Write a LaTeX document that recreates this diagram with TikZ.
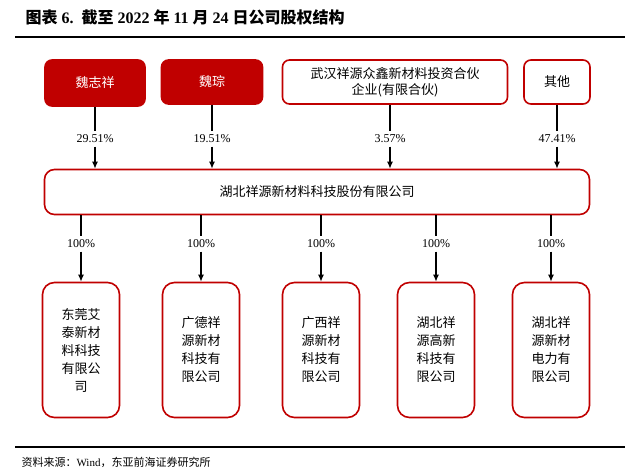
\documentclass[tikz,border=0pt]{standalone}
\usepackage{fontspec}
\setmainfont{Liberation Serif}
\newfontfamily\cjk{Noto Sans CJK SC}
\usetikzlibrary{positioning,arrows.meta}
\definecolor{xyred}{RGB}{192,0,0}
\begin{document}
\begin{tikzpicture}[
    x=1pt,y=-1pt,
    holder/.style={
      draw=xyred,
      line width=1.6pt,
      rounded corners=7pt,
      font=\cjk\fontsize{13}{16}\selectfont,
      align=center,
      inner sep=0pt
    },
    person/.style={
      holder,
      fill=xyred,
      text=white
    },
    child/.style={
      holder,
      rounded corners=12pt,
      minimum width=77pt,
      minimum height=135pt,
      font=\cjk\fontsize{13}{18}\selectfont
    },
    pct/.style={
      font=\fontsize{12}{14}\selectfont
    },
    >={Latex[length=7pt,width=6pt]}
    ]
    \useasboundingbox (0,0) rectangle (640,474);
    \node[anchor=west,font=\bfseries\fontsize{16}{19}\selectfont] (title) at (22,17)
      {{\cjk\bfseries 图表} 6.\ \ {\cjk\bfseries 截至} 2022 {\cjk\bfseries 年} 11 {\cjk\bfseries 月} 24 {\cjk\bfseries 日公司股权结构}};
    \draw[line width=1.2pt] (15,37) -- (625,37);
    % holders
    \node[person,minimum width=100pt,minimum height=46pt] (wzx) at (95,83) {魏志祥};
    \node[person,minimum width=101pt,minimum height=44pt] (wc) at (212,82) {魏琮};
    \node[holder,minimum width=225pt,minimum height=44pt] (wh) at (395,82) {武汉祥源众鑫新材料投资合伙\\企业(有限合伙)};
    \node[holder,minimum width=66pt,minimum height=44pt] (qt) at (557,82) {其他};
    % company
    \node[holder,rounded corners=10pt,minimum width=545pt,minimum height=45pt] (co) at (317,192) {湖北祥源新材料科技股份有限公司};
    \foreach \h/\x/\p in {wzx/95/29.51\%,wc/212/19.51\%,wh/390/3.57\%,qt/557/47.41\%}{
      \node[pct] (p\h) at (\x,139) {\p};
      \draw[line width=1.3pt] (\h.south -| p\h) -- (p\h.north);
      \draw[->,line width=1.3pt] (p\h.south) -- (p\h |- co.north);
    }
    % subsidiaries
    \foreach \c/\x/\t in {
      s1/81/{东莞艾\\泰新材\\料科技\\有限公\\司},
      s2/201/{广德祥\\源新材\\科技有\\限公司},
      s3/321/{广西祥\\源新材\\科技有\\限公司},
      s4/436/{湖北祥\\源高新\\科技有\\限公司},
      s5/551/{湖北祥\\源新材\\电力有\\限公司}}{
      \node[child] (\c) at (\x,350) {\t};
      \node[pct] (p\c) at (\x,244) {100\%};
      \draw[line width=1.3pt] (co.south -| p\c) -- (p\c.north);
      \draw[->,line width=1.3pt] (p\c.south) -- (\c.north);
    }
    \draw[line width=1.2pt] (15,447) -- (625,447);
    \node[anchor=west,font=\fontsize{11}{13}\selectfont] (src) at (18,462)
      {{\cjk 资料来源：}Wind{\cjk ，东亚前海证券研究所}};
\end{tikzpicture}
\end{document}
